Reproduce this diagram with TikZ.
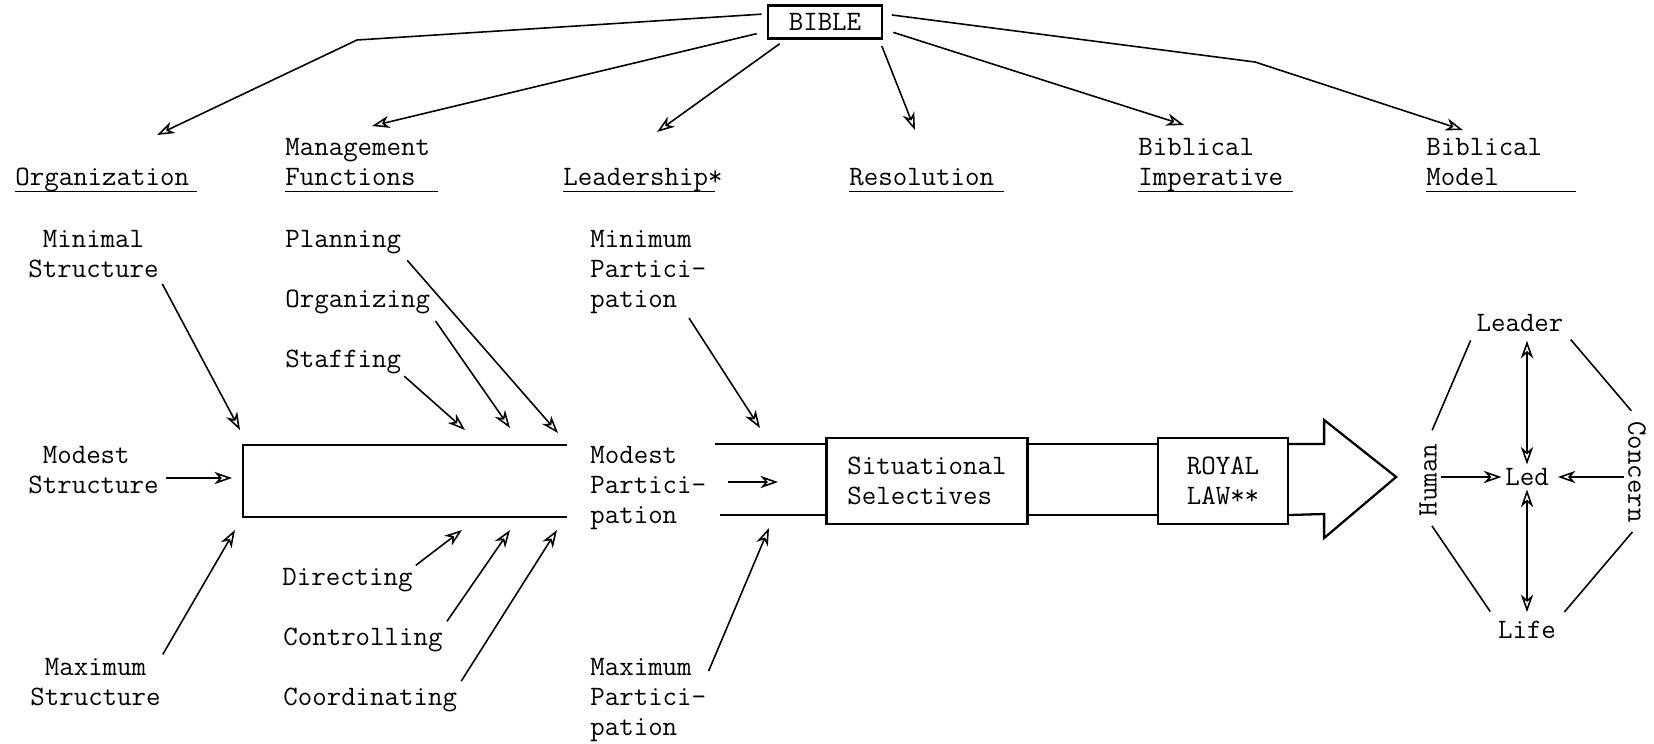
\documentclass[tikz,border=0pt]{standalone}
\usepackage{fontspec}
\usepackage{tikz}
\usetikzlibrary{arrows.meta,calc}

\tikzset{
  tw/.style={font=\ttfamily\fontsize{16pt}{17.07pt}\selectfont},
  lbl/.style={tw, inner sep=0pt, anchor=base west, align=left},
  boxed/.style={tw, draw, line width=1.3pt, align=left, inner sep=0pt},
  wire/.style={line width=0.9pt},
  arr/.style={wire, -{Stealth[open,length=10pt,width=7pt,inset=3pt]}},
  darr/.style={wire, {Stealth[open,length=10pt,width=7pt,inset=3pt]}-{Stealth[open,length=10pt,width=7pt,inset=3pt]}},
}
\newcommand{\ulin}[2]{\rlap{\rule[-4.2pt]{#1}{1pt}}#2}

\begin{document}
\begin{tikzpicture}[x=0.02cm, y=-0.02cm]
    \useasboundingbox (0,0) rectangle (1654,744);

    % source and headings (multi-line nodes sit on their last baseline)
    \node[boxed, minimum width=2.28cm, minimum height=0.66cm] (bible) at (825,22) {BIBLE};
    \node[lbl] (hOrg) at (15,185) {\ulin{3.64cm}{Organization}};
    \node[lbl] (hMan) at (285,185) {Management\\\ulin{3.06cm}{Functions}};
    \node[lbl] (hLead) at (563,185) {\ulin{3.04cm}{Leadership*}};
    \node[lbl] (hRes) at (849,185) {\ulin{3.1cm}{Resolution}};
    \node[lbl] (hImp) at (1138,185) {Biblical\\\ulin{3.1cm}{Imperative}};
    \node[lbl] (hMod) at (1426,185) {Biblical\\\ulin{3cm}{Model}};

    \coordinate (kOrg) at (357,40);
    \coordinate (kMod) at (1255,62);
    \coordinate (tOrg) at (157,135);
    \coordinate (tMan) at (372,126);
    \coordinate (tLead) at (657,132);
    \coordinate (tRes) at (915,130);
    \coordinate (tImp) at (1184,125);
    \coordinate (tMod) at (1463,130);
    \draw[arr, shorten <=3pt] (bible.172) -- (kOrg) -- (tOrg);
    \draw[arr, shorten <=6pt] (bible.189) -- (tMan);
    \draw[arr, shorten <=4pt] (bible.204) -- (tLead);
    \draw[arr, shorten <=4pt] (bible.342) -- (tRes);
    \draw[arr, shorten <=6pt] (bible.353) -- (tImp);
    \draw[arr, shorten <=5pt] (bible.8) -- (kMod) -- (tMod);

    % fishbone labels
    \node[lbl] (minS) at (28,277) {\phantom{M}Minimal\\Structure};
    \node[lbl] (modS) at (28,493) {\phantom{M}Modest\\Structure};
    \node[lbl] (maxS) at (30,705) {\phantom{M}Maximum\\Structure};
    \node[lbl] (plan) at (285,247) {Planning};
    \node[lbl] (orgz) at (285,307) {Organizing};
    \node[lbl] (staff) at (285,367) {Staffing};
    \node[lbl] (dirc) at (282,585) {Directing};
    \node[lbl] (ctrl) at (283,645) {Controlling};
    \node[lbl] (coord) at (283,705) {Coordinating};
    \node[lbl] (minP) at (590,307) {Minimum\\Partici-\\pation};
    \node[lbl] (modP) at (590,523) {Modest\\Partici-\\pation};
    \node[lbl] (maxP) at (590,735) {Maximum\\Partici-\\pation};

    % open box and channel
    \draw[line width=1.3pt] (567,445) -- (243,445) -- (243,517) -- (567,517);
    \node[boxed, minimum width=4.02cm, minimum height=1.72cm] (sit) at (927,481) {Situational\\Selectives};
    \node[boxed, minimum width=2.6cm, minimum height=1.72cm] (royal) at (1223,481) {ROYAL\\LAW**};
    \coordinate (cTop) at (715,444);
    \coordinate (cBot) at (720,515);
    \draw[line width=1.3pt] (cTop) -- (cTop -| sit.west);
    \draw[line width=1.3pt] (cBot) -- (cBot -| sit.west);
    \draw[line width=1.3pt] (sit.east |- cTop) -- (royal.west |- cTop);
    \draw[line width=1.3pt] (sit.east |- cBot) -- (royal.west |- cBot);
    \draw[line width=1.3pt] (royal.east |- cTop) -- ++(35,0) -- ++(0,-24) -- ++(72,57)
        -- ++(-72,61) -- ++(0,-24) -- (royal.east |- cBot);

    \coordinate (tMinS) at (240,430);
    \coordinate (tModS) at (232,478);
    \coordinate (tMaxS) at (235,530);
    \coordinate (tPlan) at (558,433);
    \coordinate (tOrgz) at (510,428);
    \coordinate (tStaff) at (465,430);
    \coordinate (tDirc) at (462,530);
    \coordinate (tCtrl) at (510,530);
    \coordinate (tCoord) at (557,530);
    \coordinate (tMinP) at (760,428);
    \coordinate (tModP) at (778,482);
    \coordinate (tMaxP) at (769,528);
    \draw[arr, shorten <=4pt] (minS.south east) -- (tMinS);
    \draw[arr, shorten <=4pt] (modS.east |- tModS) -- (tModS);
    \draw[arr, shorten <=2pt] (maxS.north east) -- (tMaxS);
    \draw[arr, shorten <=5pt] (plan.south east) -- (tPlan);
    \draw[arr, shorten <=5pt] (orgz.south east) -- (tOrgz);
    \draw[arr, shorten <=2pt] (staff.south east) -- (tStaff);
    \draw[arr, shorten <=2pt] (dirc.north east) -- (tDirc);
    \draw[arr, shorten <=4pt] (ctrl.north east) -- (tCtrl);
    \draw[arr, shorten <=4pt] (coord.north east) -- (tCoord);
    \draw[arr, shorten <=3pt] ($(minP.south)!0.65!(minP.south east)$) -- (tMinP);
    \draw[arr, shorten <=12pt] (modP.east |- tModP) -- (tModP);
    \draw[arr, shorten <=3pt] ($(maxP.north east)!0.22!(maxP.south east)$) -- (tMaxP);

    % biblical model
    \node[tw, inner sep=2pt] (leader) at (1520,323) {Leader};
    \node[tw, inner sep=2pt] (led) at (1527,477) {Led};
    \node[tw, inner sep=2pt] (life) at (1527,630) {Life};
    \node[tw, inner sep=2pt, rotate=90] (human) at (1428,480) {Human};
    \node[tw, inner sep=2pt, rotate=-90] (concern) at (1637,472) {Concern};
    \draw[wire, shorten <=3pt, shorten >=6pt] (leader.south west) -- (human.east);
    \draw[wire, shorten <=3pt, shorten >=5pt] (leader.south east) -- (concern.west);
    \draw[wire, shorten <=4pt, shorten >=4pt] (human.west) -- (life.north west);
    \draw[wire, shorten <=4pt, shorten >=4pt] (concern.east) -- (life.north east);
    \draw[darr, shorten <=3pt] (led.north |- leader.south) -- (led.north);
    \draw[darr, shorten >=3pt] (led.south) -- (led.south |- life.north);
    \draw[arr] (human.south |- led) -- (led.west);
    \draw[arr, shorten >=3pt] (concern.south |- led) -- (led.east);
\end{tikzpicture}
\end{document}
